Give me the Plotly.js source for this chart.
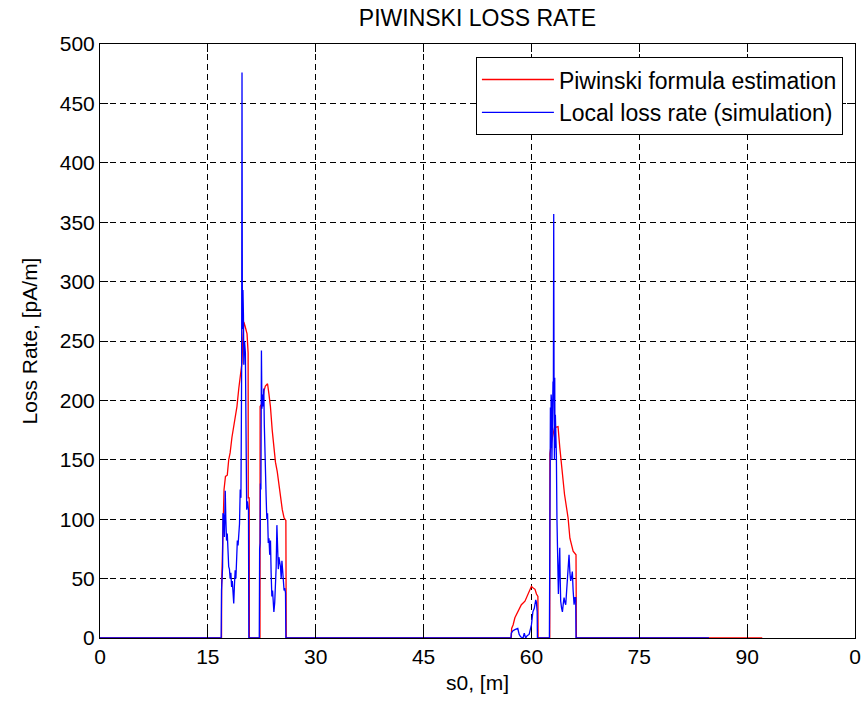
<!DOCTYPE html>
<html>
<head>
<meta charset="utf-8">
<script src="https://cdn.plot.ly/plotly-3.0.1.min.js"></script>
<style>html,body{margin:0;padding:0;background:#fff;}#chart{width:866px;height:702px;}</style>
</head>
<body>
<div id="chart"></div>
<script>
// Tick labels (the last one is cut off to "0" in the reference)
const xTickVals = [0, 15, 30, 45, 60, 75, 90, 105];
const xTickText = ["0", "15", "30", "45", "60", "75", "90", "0"];

// Piwinski formula estimation (red)
const redS = [0, 16.9, 16.92, 17.1, 17.25, 17.45, 17.7, 17.9, 18.1, 18.35, 18.6, 18.85, 19.05, 19.3, 19.5, 19.75, 19.85, 20.0, 20.2, 20.45, 20.6, 20.62, 20.75, 20.77,
  22.25, 22.27, 22.6, 22.8, 23.0, 23.3, 23.5, 23.7, 23.95, 24.2, 24.4, 24.65, 24.85, 25.1, 25.35, 25.6, 25.85, 25.9,
  57.2, 57.25, 57.45, 57.7, 58.15, 58.6, 59.1, 59.55, 60.0, 60.25, 60.5, 60.7, 60.9, 60.93,
  62.55, 62.57, 62.8, 63.2, 63.7, 63.95, 64.2, 64.6, 65.1, 65.35, 65.8, 65.9, 66.2, 66.25, 92.1];
const redV = [0, 0, 45, 108, 125, 136, 137, 150, 156, 169, 178, 190, 195, 210, 221, 232, 250, 266, 262, 256, 240, 118, 118, 0,
  0, 195, 198, 208, 212, 214, 205, 195, 175, 156, 148, 140, 130, 117, 108, 101, 99, 0,
  0, 8, 11, 17, 22, 28, 31, 37, 43.5, 42, 41, 37, 35, 0,
  0, 155, 165, 177, 178, 160, 143, 121, 101, 84, 73, 72, 70, 0, 0];

// Local loss rate (simulation) (blue)
const blueS = [0, 16.85, 16.9, 16.95, 17.05, 17.1, 17.2, 17.3, 17.42, 17.5, 17.6, 17.7, 17.8, 17.9, 18.0, 18.1, 18.2, 18.3, 18.4, 18.5, 18.6, 18.7, 18.8, 18.9, 19.0, 19.1, 19.2, 19.3, 19.4, 19.5, 19.6, 19.66, 19.7, 19.75, 19.8, 19.88, 19.95, 20.0, 20.1, 20.22, 20.3, 20.4, 20.5, 20.65, 20.7,
  22.15, 22.2, 22.27, 22.31, 22.38, 22.45, 22.52, 22.6, 22.7, 22.78, 22.85, 22.95, 23.01, 23.1, 23.2, 23.3, 23.4, 23.5, 23.6, 23.71, 23.8, 23.9, 24.0, 24.1, 24.18, 24.3, 24.41, 24.5, 24.6, 24.7, 24.8, 24.88, 25.0, 25.1, 25.2, 25.3, 25.4, 25.5, 25.6, 25.7, 25.8, 25.85,
  57.15, 57.2, 57.4, 57.7, 58.1, 58.3, 58.5, 58.84, 59.0, 59.2, 59.4, 59.68, 59.9, 60.0, 60.2, 60.4, 60.6, 60.7, 60.8, 60.83,
  62.5, 62.55, 62.6, 62.64, 62.7, 62.74, 62.78, 62.85, 62.92, 62.97, 63.0, 63.05, 63.1, 63.15, 63.2, 63.24, 63.28, 63.33, 63.4, 63.47, 63.55, 63.61, 63.68, 63.75, 63.85, 63.94, 64.0, 64.07, 64.2, 64.31, 64.45, 64.54, 64.65, 64.77, 64.9, 65.0, 65.1, 65.23, 65.35, 65.46, 65.6, 65.69, 65.8, 65.93, 66.05, 66.16, 66.2, 84.7];
const blueV = [0, 0, 40, 52, 60, 105, 103, 85, 124, 100, 82, 88, 70, 60, 58, 50, 55, 43, 48, 35, 29, 45, 57, 50, 70, 82, 78, 92, 96, 125, 118, 180, 230, 476, 260, 293, 271, 230, 250, 240, 180, 108, 115, 108, 0,
  0, 75, 80, 130, 125, 242, 193, 205, 195, 210, 180, 145, 143, 120, 100, 105, 80, 84, 70, 82, 55, 35, 40, 28, 22, 30, 42, 60, 95, 75, 58, 68, 64, 60, 50, 65, 57, 45, 40, 42, 38, 0,
  0, 4, 6, 7, 8, 3, 1, 0, 4, 0, 2, 3, 8, 11, 22, 25, 32, 30, 22, 0,
  0, 138, 175, 194, 160, 205, 201, 150, 188, 170, 216, 200, 357, 200, 150, 219, 160, 188, 170, 154, 100, 67, 45, 37, 60, 76, 50, 31, 25, 22, 30, 34, 30, 28, 40, 51, 62, 70, 55, 48, 52, 56, 40, 28, 34, 34, 0, 0];

const FONT = "Liberation Sans, Arial, Helvetica, sans-serif";

const traces = [
  {x: redS, y: redV, type: "scatter", mode: "lines", name: "Piwinski formula estimation",
   line: {color: "#ff0000", width: 1.3}, legendgroup: "a", cliponaxis: true},
  {x: blueS, y: blueV, type: "scatter", mode: "lines", name: "Local loss rate (simulation)",
   line: {color: "#0000ff", width: 1.3}, legendgroup: "b", cliponaxis: true}
];

const axisCommon = {
  showline: true, linecolor: "#000", linewidth: 1, mirror: "ticks",
  ticks: "inside", ticklen: 8, tickcolor: "#000", tickwidth: 1,
  showgrid: true, gridcolor: "#000", gridwidth: 1, griddash: "6px,4px",
  zeroline: false,
  tickfont: {family: FONT, size: 21, color: "#000"}
};

const layout = {
  width: 866, height: 702,
  margin: {l: 100, r: 11, t: 44, b: 64},
  paper_bgcolor: "#fff", plot_bgcolor: "#fff",
  font: {family: FONT, color: "#000"},
  title: {text: "PIWINSKI LOSS RATE", font: {family: FONT, size: 23, color: "#000"},
          x: 0.5, xref: "paper", xanchor: "center", y: 1 - 18 / 702, yref: "container", yanchor: "middle"},
  xaxis: Object.assign({}, axisCommon, {
    range: [0, 105], tickmode: "array", tickvals: xTickVals, ticktext: xTickText,
    title: {text: "s0, [m]", font: {family: FONT, size: 21, color: "#000"}, standoff: 8}
  }),
  yaxis: Object.assign({}, axisCommon, {
    range: [0, 500], tickmode: "linear", tick0: 0, dtick: 50,
    title: {text: "Loss Rate, [pA/m]", font: {family: FONT, size: 21, color: "#000"}, standoff: 16}
  }),
  showlegend: true,
  legend: {
    x: 0.984, xanchor: "right", y: 0.978, yanchor: "top",
    bgcolor: "#fff", bordercolor: "#000", borderwidth: 1,
    font: {family: FONT, size: 23, color: "#000"},
    itemwidth: 72, tracegroupgap: 0, traceorder: "grouped"
  }
};

Plotly.newPlot("chart", traces, layout, {staticPlot: true, displayModeBar: false});
</script>
</body>
</html>
